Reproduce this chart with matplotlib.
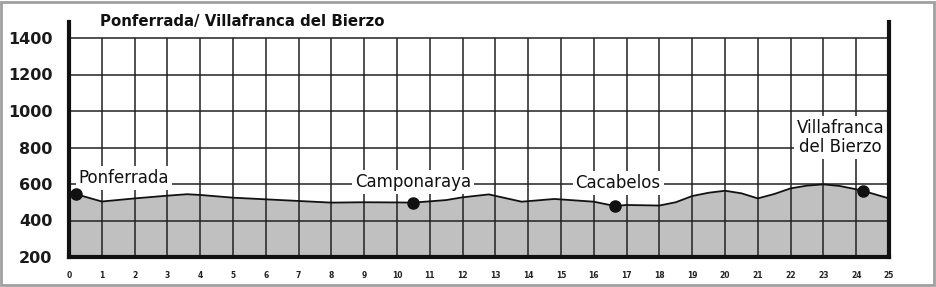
import matplotlib
matplotlib.use("Agg")
import matplotlib.pyplot as plt
from matplotlib.patches import Rectangle

# ---- data ----
km = [0, 0.2, 1, 2, 3, 3.6, 4, 5, 6, 7, 8, 9, 10, 10.5, 11, 11.5, 12, 12.8,
      13.8, 14.8, 16, 16.65, 17, 18, 18.5, 19, 19.5, 20, 20.5, 21, 21.5, 22,
      22.5, 23, 23.5, 24, 24.2, 25]
elev = [556, 545, 504, 521, 536, 544, 540, 525, 516, 507, 498, 500, 499, 498,
        505, 512, 527, 543, 503, 518, 503, 479, 485, 482, 500, 534, 552, 563,
        549, 521, 545, 576, 591, 598, 589, 571, 563, 521]

town_names = ["Ponferrada", "Camponaraya", "Cacabelos", "Villafranca\ndel Bierzo"]
town_km = [0.2, 10.5, 16.65, 24.2]
town_elev = [545, 498, 479, 563]

y_ticks = [200, 400, 600, 800, 1000, 1200, 1400]
x_ticks = list(range(0, 26))
title = "Ponferrada/ Villafranca del Bierzo"

# ---- figure ----
W, H = 936, 287
fig = plt.figure(figsize=(W / 100, H / 100), dpi=100)
fig.patch.set_facecolor("white")

left, right, bottom, top = 69 / W, 889 / W, 30 / H, 265 / H
ax = fig.add_axes([left, bottom, right - left, top - bottom])
ax.set_xlim(0, 25)
ymax = 1400 + 16 / ((257 - 38) / 1200)
ax.set_ylim(200, ymax)

ax.fill_between(km, 200, elev, color="#c0c0c0", lw=0, zorder=1)
ax.hlines(y_ticks[1:], 0, 25, color="#222222", lw=1.1, zorder=2)
ax.vlines(x_ticks[1:-1], 200, 1400, color="#222222", lw=1.1, zorder=2)
ax.plot(km, elev, color="#111111", lw=1.3, zorder=3)

# labels (layout positions)
label_pos = [(0.30, 604, "left"), (10.49, 585, "center"),
             (16.74, 576, "center"), (23.52, 777, "center")]
for name, (lx, ly, ha) in zip(town_names, label_pos):
    ax.text(lx, ly, name, fontsize=12, ha=ha, va="baseline",
            multialignment="center", linespacing=1.05, color="#111111",
            zorder=4,
            bbox=dict(boxstyle="square,pad=0.18", fc="white", ec="none"))

ax.plot(town_km, town_elev, "o", color="#111111", ms=8, zorder=5)

ax.spines["top"].set_visible(False)
for s in ["left", "right", "bottom"]:
    ax.spines[s].set_linewidth(3)
    ax.spines[s].set_color("#111111")
    ax.spines[s].set_zorder(6)

ax.set_yticks(y_ticks)
ax.set_yticklabels([str(v) for v in y_ticks], fontsize=11.5, fontweight="bold",
                   color="#1a1a1a")
ax.set_xticks(x_ticks)
ax.set_xticklabels([str(v) for v in x_ticks], fontsize=5.5, fontweight="bold",
                   color="#222222")
ax.tick_params(axis="y", length=0, pad=12)
ax.tick_params(axis="x", length=0, pad=10)
ax.set_facecolor("white")

fig.text(100 / W, (H - 26) / H, title, fontsize=10.8, fontweight="bold",
         ha="left", va="baseline", color="#111111")

fig.patches.append(Rectangle((1 / W, 2 / H), (W - 3) / W, (H - 4) / H,
                             transform=fig.transFigure, fill=False,
                             ec="#a0a0a0", lw=2))

fig.savefig("out.png", dpi=100)
